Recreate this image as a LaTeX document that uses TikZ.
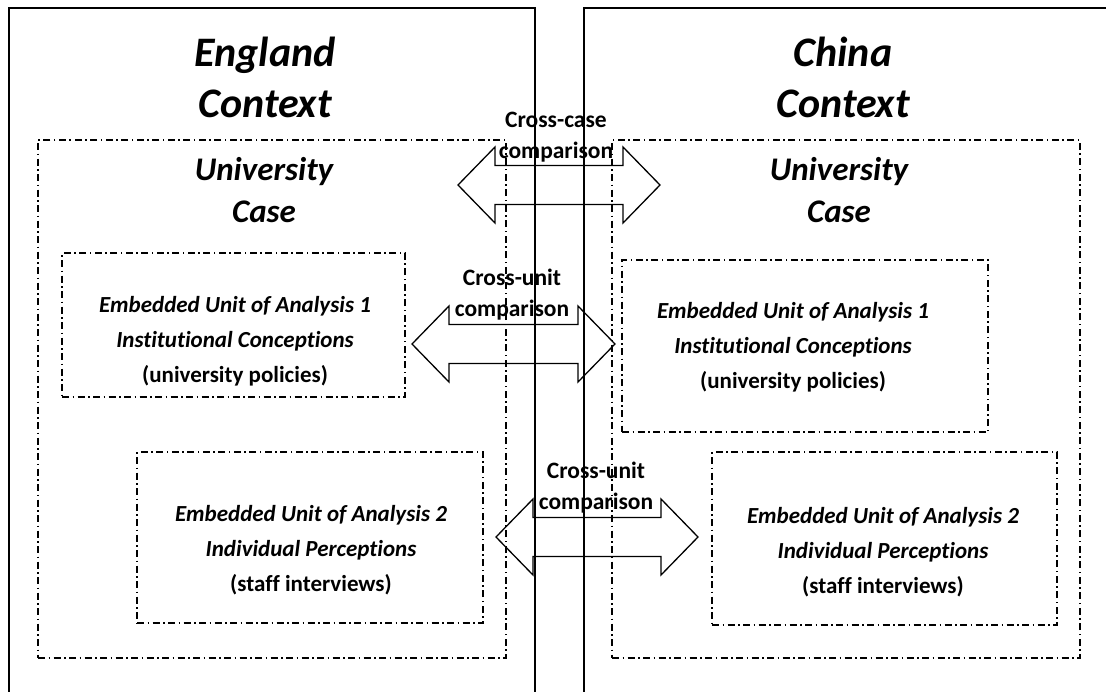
\documentclass[tikz,border=0pt]{standalone}
\usepackage{fontspec}
\setmainfont[Ligatures=NoCommon]{Carlito}
\begin{document}
\begin{tikzpicture}[x=1pt,y=-1pt,
  frame/.style={draw,line width=1.8pt},
  unitbox/.style={draw,line width=1.2pt,inner sep=0pt,outer sep=0pt,
    dash pattern=on 7pt off 3.5pt on 1.5pt off 3.5pt},
  ctxtitle/.style={align=center,inner sep=0pt,
    font=\fontsize{42}{51}\selectfont\bfseries\itshape},
  casetitle/.style={align=center,inner sep=0pt,
    font=\fontsize{33}{42}\selectfont\bfseries\itshape},
  cmptext/.style={align=center,inner sep=0pt,
    font=\fontsize{23.5}{31}\selectfont\bfseries},
  unittext/.style={align=center,inner sep=0pt,
    font=\fontsize{23}{35}\selectfont\bfseries},
  twoway/.pic={
    \draw[line width=1.3pt,line join=miter]
      (-#1,0) -- (-#1+37,-38) -- (-#1+37,-19.5) -- (#1-37,-19.5)
      -- (#1-37,-38) -- (#1,0) -- (#1-37,38) -- (#1-37,19.5)
      -- (-#1+37,19.5) -- (-#1+37,38) -- cycle;
  }
]
\useasboundingbox (0,0) rectangle (1106,691);
\begin{scope}
\clip (0,0) rectangle (1106,691);
% the two national contexts, open towards the page edges
\draw[frame] (9,8) rectangle (535,720);
\draw[frame] (584,8) rectangle (1140,720);
\end{scope}

% context titles
\node[ctxtitle] (engT) at (265,77) {England\\Context};
\node[ctxtitle] (chnT) at (843,77) {China\\Context};

% university cases
\node[unitbox,minimum width=468,minimum height=518] (caseL) at (272,399) {};
\node[unitbox,minimum width=468,minimum height=518] (caseR) at (846,399) {};
\node[casetitle] (caseLT) at (264,190) {University\\Case};
\node[casetitle] (caseRT) at (839,190) {University\\Case};

% embedded units of analysis
\node[unitbox,minimum width=343,minimum height=144] (u1L) at (233.5,325) {};
\node[unitbox,minimum width=366,minimum height=172] (u1R) at (805,346) {};
\node[unitbox,minimum width=346,minimum height=171] (u2L) at (310,537.5) {};
\node[unitbox,minimum width=345,minimum height=173] (u2R) at (884.5,538.5) {};

\node[unittext] (u1LT) at (235,341.5)
  {\itshape Embedded Unit of Analysis 1\\\itshape Institutional Conceptions\\(university policies)};
\node[unittext] (u1RT) at (793,347.5)
  {\itshape Embedded Unit of Analysis 1\\\itshape Institutional Conceptions\\(university policies)};
\node[unittext] (u2LT) at (311,550)
  {\itshape Embedded Unit of Analysis 2\\\itshape Individual Perceptions\\(staff interviews)};
\node[unittext] (u2RT) at (883,552)
  {\itshape Embedded Unit of Analysis 2\\\itshape Individual Perceptions\\(staff interviews)};

% comparison arrows and their labels
\pic (caseArrow) at (559,185) {twoway=101};
\pic (unitArrowA) at (513.5,344) {twoway=101.5};
\pic (unitArrowB) at (597,537) {twoway=101};
\node[cmptext] (caseCmp) at (556,137) {Cross-case\\comparison};
\node[cmptext] (unitCmpA) at (512,294.5) {Cross-unit\\comparison};
\node[cmptext] (unitCmpB) at (596,487.5) {Cross-unit\\comparison};
\end{tikzpicture}
\end{document}
